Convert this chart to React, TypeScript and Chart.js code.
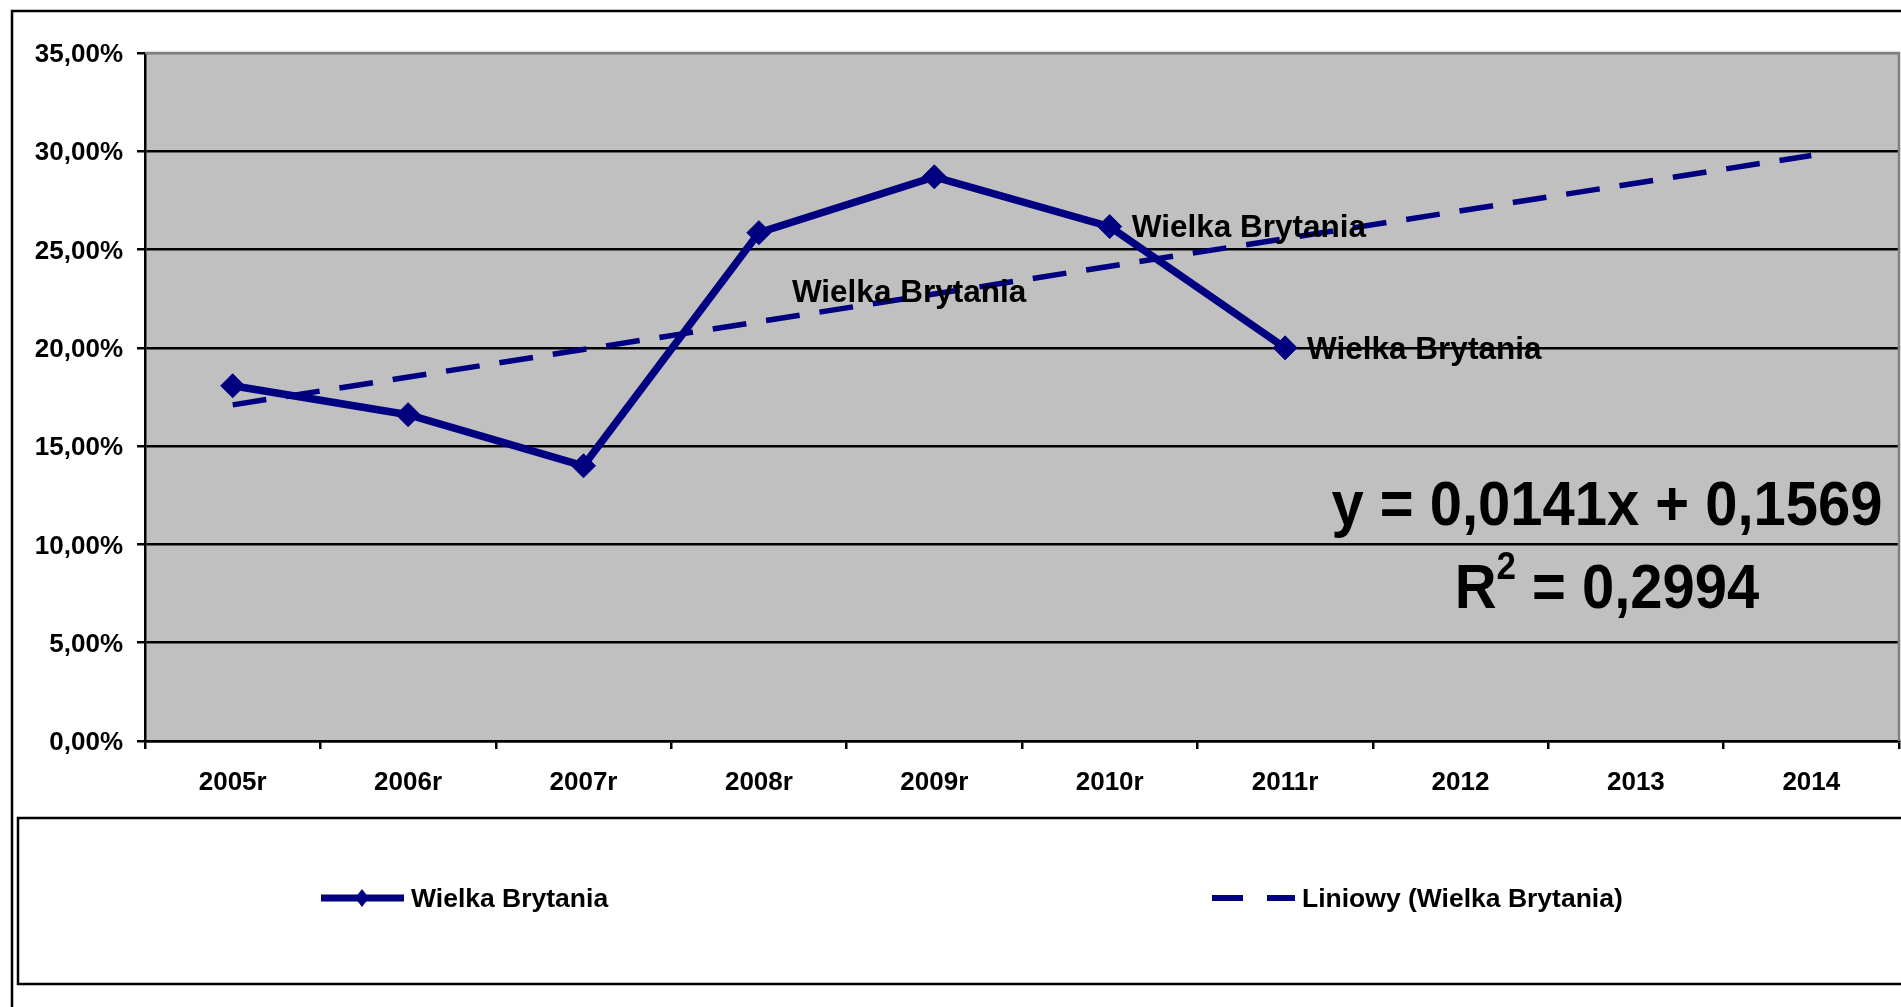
import React, { useEffect, useRef } from 'react';
import { Chart, registerables } from 'chart.js';

Chart.register(...registerables);

const categories = ['2005r', '2006r', '2007r', '2008r', '2009r', '2010r', '2011r', '2012', '2013', '2014'];
const seriesValues = [18.07, 16.6, 14.0, 25.86, 28.7, 26.17, 20.0, null, null, null];
const trendValues = [17.1, null, null, null, null, null, null, null, null, 29.79];
const yTicks = [0, 5, 10, 15, 20, 25, 30, 35];
const seriesName = 'Wielka Brytania';
const trendName = 'Liniowy (Wielka Brytania)';
const labelledPoints = [5, 6];
const equationLine1 = 'y = 0,0141x + 0,1569';
const rSquaredValue = '0,2994';

const NAVY = '#000080';
const FONT = '"Liberation Sans", Arial, sans-serif';

const fmtPct = (v: number) => v.toFixed(2).replace('.', ',') + '%';

export default function App() {
  const canvasRef = useRef<HTMLCanvasElement | null>(null);

  useEffect(() => {
    const canvas = canvasRef.current;
    if (!canvas) return;

    const decorPlugin = {
      id: 'decor',
      beforeDraw(chart: any) {
        const { ctx, chartArea: a } = chart;
        ctx.save();
        ctx.fillStyle = '#ffffff';
        ctx.fillRect(0, 0, chart.width, chart.height);
        ctx.fillStyle = '#C0C0C0';
        ctx.fillRect(a.left, a.top, a.right - a.left, a.bottom - a.top);
        ctx.restore();
      },
      afterDatasetsDraw(chart: any) {
        const { ctx, chartArea: a } = chart;
        const xs = chart.scales.x;
        const ys = chart.scales.y;
        ctx.save();
        // plot border top / right (gray)
        ctx.strokeStyle = '#808080';
        ctx.lineWidth = 2.5;
        ctx.beginPath();
        ctx.moveTo(a.left, a.top);
        ctx.lineTo(a.right, a.top);
        ctx.lineTo(a.right, a.bottom);
        ctx.stroke();

        // data labels
        ctx.fillStyle = '#000';
        ctx.font = `bold 31.5px ${FONT}`;
        ctx.textBaseline = 'middle';
        ctx.textAlign = 'left';
        const meta = chart.getDatasetMeta(0);
        labelledPoints.forEach((i) => {
          const p = meta.data[i];
          ctx.fillText(seriesName, p.x + 22, p.y + 2);
        });
        // trend label
        ctx.textAlign = 'center';
        ctx.fillText(seriesName, xs.getPixelForValue(3.856), ys.getPixelForValue(22.75));

        // equation (slightly condensed bold text)
        const cx = xs.getPixelForValue(7.835);
        const sx = 0.92;
        const big = `bold 63px ${FONT}`;
        const small = `bold 38px ${FONT}`;
        ctx.textAlign = 'left';
        ctx.font = big;
        const w1 = ctx.measureText(equationLine1).width * sx;
        const y1 = ys.getPixelForValue(11.85);
        ctx.save();
        ctx.translate(cx - w1 / 2, y1);
        ctx.scale(sx, 1);
        ctx.fillText(equationLine1, 0, 0);
        ctx.restore();

        const y2 = ys.getPixelForValue(7.65);
        const rW = ctx.measureText('R').width;
        const restText = ' = ' + rSquaredValue;
        const restW = ctx.measureText(restText).width;
        ctx.font = small;
        const supW = ctx.measureText('2').width;
        const total = (rW + supW + restW) * sx;
        ctx.save();
        ctx.translate(cx - total / 2, y2);
        ctx.scale(sx, 1);
        ctx.font = big;
        ctx.fillText('R', 0, 0);
        ctx.font = small;
        ctx.fillText('2', rW, -22);
        ctx.font = big;
        ctx.fillText(restText, rW + supW, 0);
        ctx.restore();
        ctx.restore();
      },
      afterDraw(chart: any) {
        const { ctx } = chart;
        ctx.save();
        // outer border
        ctx.strokeStyle = '#000';
        ctx.lineWidth = 2.5;
        ctx.strokeRect(12, 11, 2200, 2200);
        // legend box
        ctx.strokeRect(18, 818, 2200, 166);

        const ly = 898;
        // item 1
        ctx.strokeStyle = NAVY;
        ctx.lineWidth = 7;
        ctx.beginPath();
        ctx.moveTo(321, ly);
        ctx.lineTo(404, ly);
        ctx.stroke();
        ctx.fillStyle = NAVY;
        ctx.beginPath();
        ctx.moveTo(362, ly - 9);
        ctx.lineTo(369, ly);
        ctx.lineTo(362, ly + 9);
        ctx.lineTo(355, ly);
        ctx.closePath();
        ctx.fill();
        ctx.fillStyle = '#000';
        ctx.font = `bold 26.5px ${FONT}`;
        ctx.textBaseline = 'middle';
        ctx.textAlign = 'left';
        ctx.fillText(seriesName, 411, ly + 2);

        // item 2
        ctx.strokeStyle = NAVY;
        ctx.lineWidth = 6;
        ctx.beginPath();
        ctx.moveTo(1212, ly);
        ctx.lineTo(1243, ly);
        ctx.moveTo(1267, ly);
        ctx.lineTo(1295, ly);
        ctx.stroke();
        ctx.fillStyle = '#000';
        ctx.fillText(trendName, 1302, ly + 2);
        ctx.restore();
      },
    };

    const chart = new Chart(canvas, {
      type: 'line',
      data: {
        labels: categories,
        datasets: [
          {
            label: seriesName,
            data: seriesValues,
            borderColor: NAVY,
            backgroundColor: NAVY,
            borderWidth: 7.5,
            pointStyle: 'rectRot',
            pointRadius: 12,
            pointBorderWidth: 1,
            pointBackgroundColor: NAVY,
            pointBorderColor: NAVY,
            tension: 0,
            spanGaps: false,
          },
          {
            label: trendName,
            data: trendValues,
            borderColor: NAVY,
            backgroundColor: NAVY,
            borderWidth: 5.5,
            borderDash: [34, 20],
            pointRadius: 0,
            tension: 0,
            spanGaps: true,
          },
        ],
      },
      options: {
        animation: false,
        responsive: false,
        devicePixelRatio: 1,
        layout: { autoPadding: false, padding: { left: 0, top: 53, right: 2, bottom: 0 } },
        plugins: {
          legend: { display: false },
          tooltip: { enabled: false },
          title: { display: false },
        },
        scales: {
          x: {
            type: 'category',
            offset: true,
            afterFit: (s: any) => {
              s.height = 1007 - 741;
              s.paddingLeft = 0;
              s.paddingRight = 0;
            },
            grid: {
              display: true,
              offset: true,
              drawOnChartArea: false,
              drawTicks: true,
              tickLength: 8,
              color: '#000',
              lineWidth: 2.5,
            },
            border: { display: true, color: '#000', width: 2.5 },
            ticks: {
              color: '#000',
              font: { family: FONT, size: 26, weight: 'bold' },
              padding: 18,
              maxRotation: 0,
              autoSkip: false,
            },
          },
          y: {
            min: 0,
            max: 35,
            afterFit: (s: any) => {
              s.width = 145;
              s.paddingTop = 0;
              s.paddingBottom = 0;
            },
            afterBuildTicks: (s: any) => {
              s.ticks = yTicks.map((v) => ({ value: v }));
            },
            grid: {
              color: (c: any) => (c.tick && c.tick.value === 35 ? '#808080' : '#000'),
              tickColor: '#000',
              lineWidth: 2.5,
              tickLength: 8,
              drawTicks: true,
            },
            border: { display: true, color: '#000', width: 2.5 },
            ticks: {
              color: '#000',
              font: { family: FONT, size: 26, weight: 'bold' },
              padding: 14,
              labelOffset: 2,
              callback: (v: any) => fmtPct(Number(v)),
            },
          },
        },
      } as any,
      plugins: [decorPlugin],
    });

    return () => {
      chart.destroy();
    };
  }, []);

  return (
    <div style={{ position: 'absolute', left: 0, top: 0, width: 1901, height: 1007, background: '#fff' }}>
      <canvas ref={canvasRef} width={1901} height={1007} style={{ display: 'block', width: 1901, height: 1007 }} />
    </div>
  );
}
